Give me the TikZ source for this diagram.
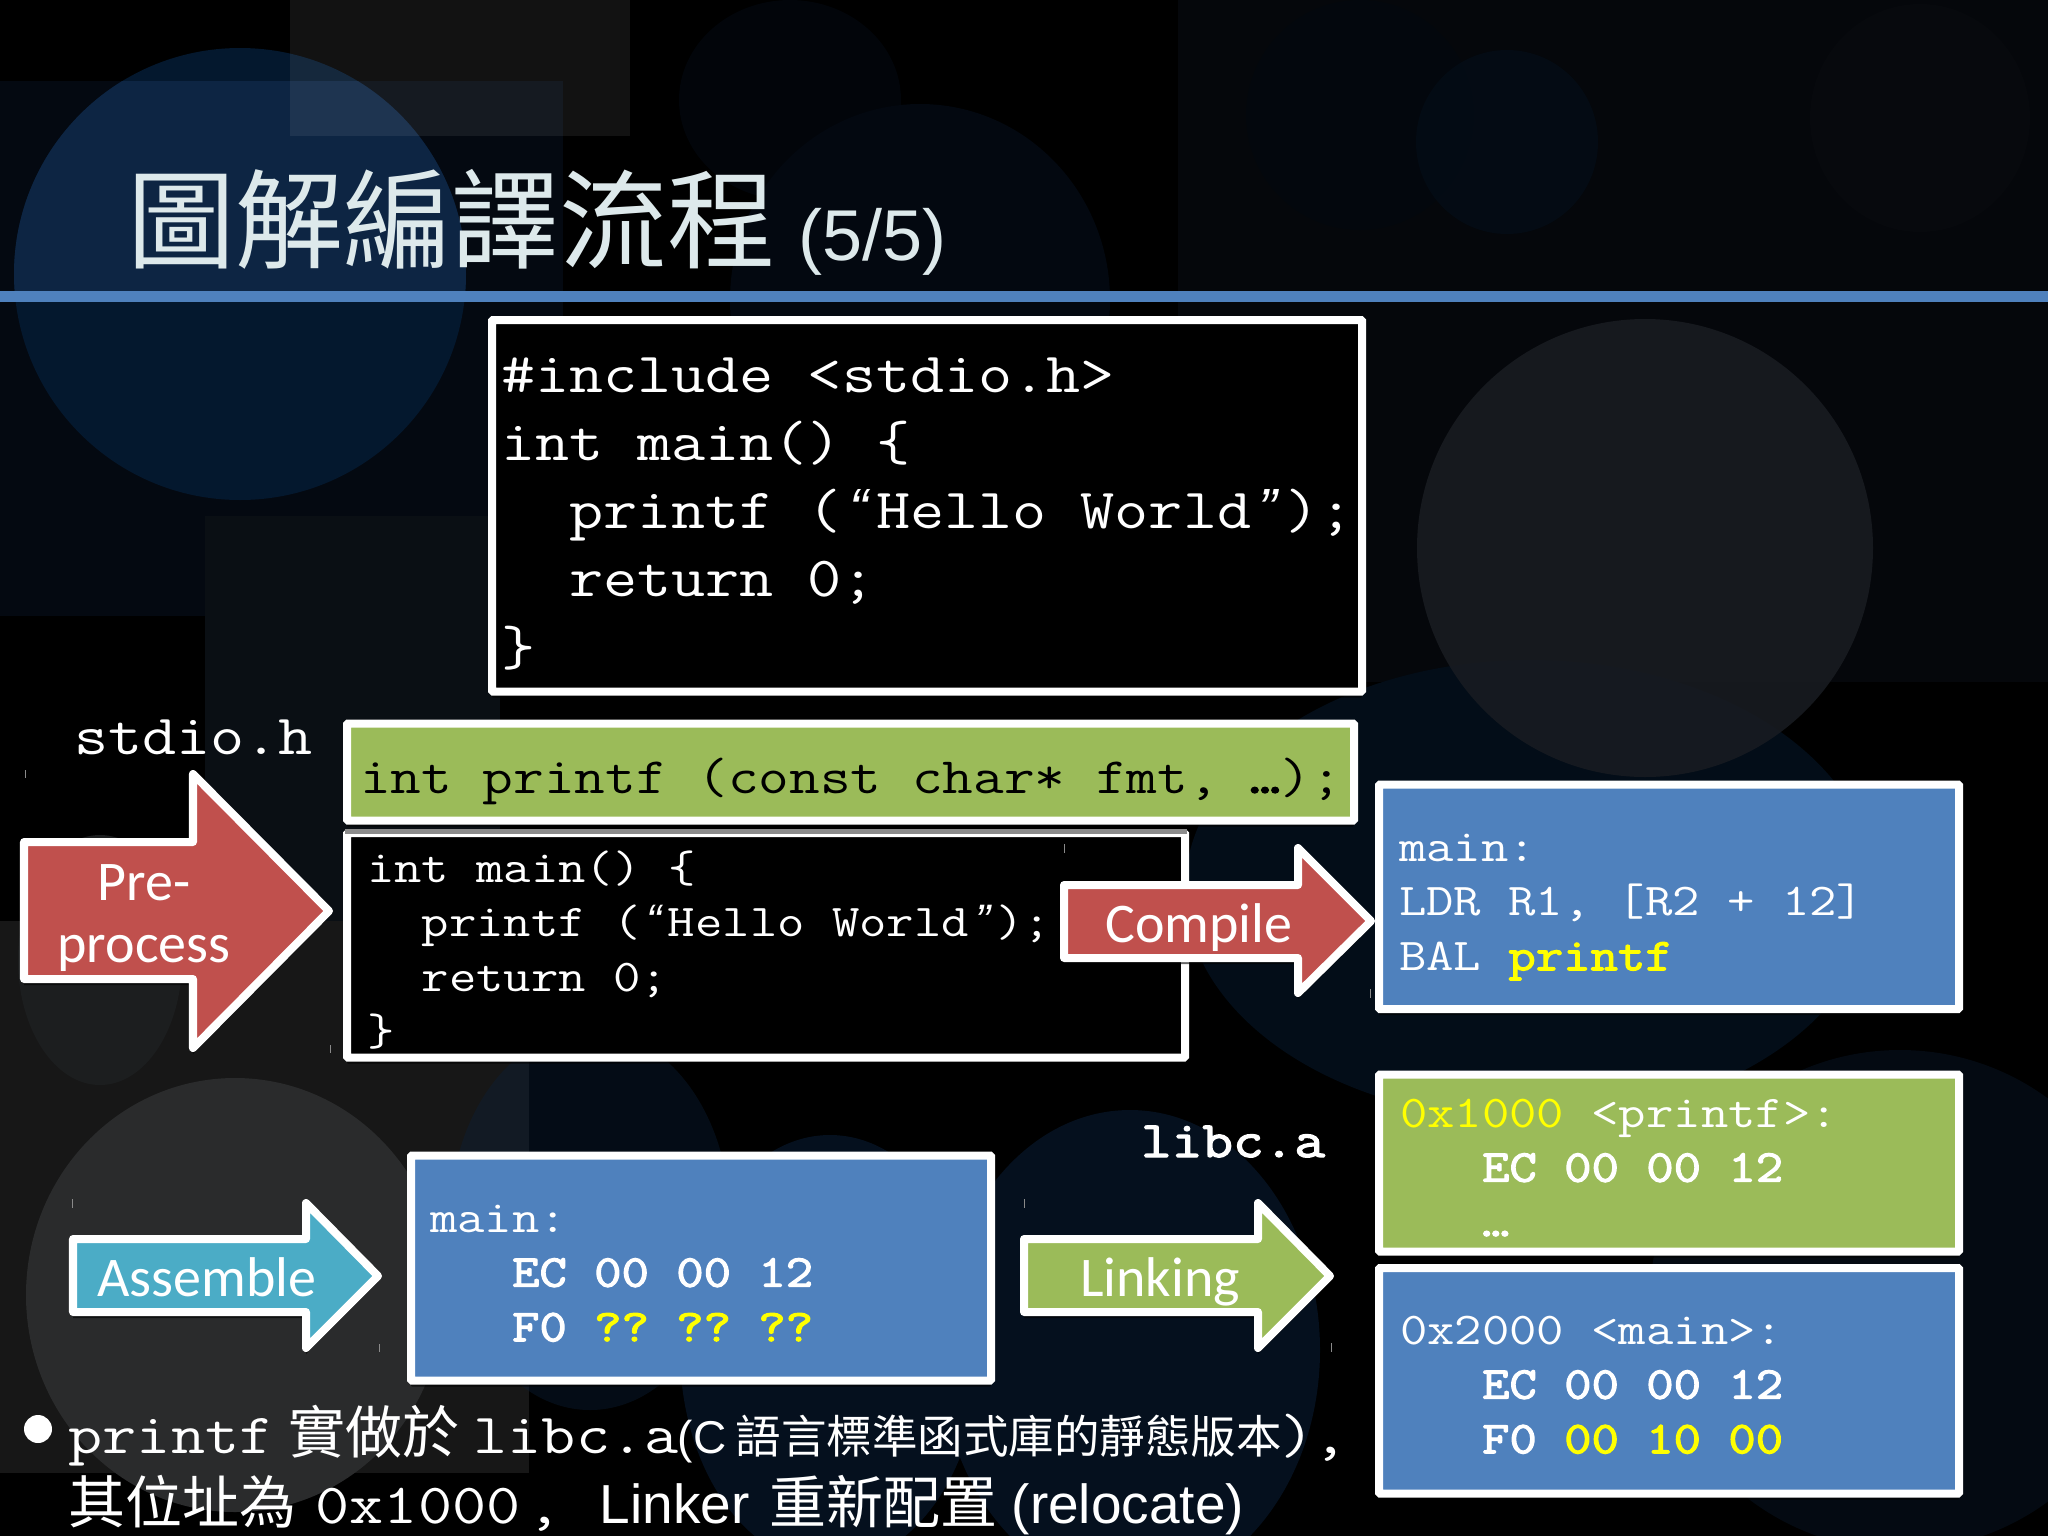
\documentclass[tikz,border=0pt]{standalone}
\usepackage{fontspec}
\usetikzlibrary{shadows}
\setmainfont{Liberation Sans}
\newfontfamily\cour[FakeStretch=1.168]{Latin Modern Mono}
\newfontfamily\courb[FakeStretch=1.168,FakeBold=2.6]{Latin Modern Mono}
\newfontfamily\calb{Carlito}
\newfontfamily\cjk{Noto Sans CJK TC}
\newdimen\pxu \pxu=0.01cm
\newcommand\fsz[2]{\fontsize{#1\pxu}{#2\pxu}\selectfont}
\newcommand\tstr{\rule{0pt}{40\pxu}}
\newcommand\frag[2]{\smash{\makebox[#1\pxu][l]{#2}}}
\newcommand\oqt{\makebox[0.6em][c]{\rmfamily\itshape “}}
\newcommand\cqt{\makebox[0.6em][c]{\rmfamily\itshape ”}}
\definecolor{pptred}{HTML}{C0504D}
\definecolor{pptgreen}{HTML}{9BBB59}
\definecolor{pptblue}{HTML}{4F81BD}
\definecolor{pptteal}{HTML}{4BACC6}
\definecolor{titlecol}{HTML}{DDE9EB}
\definecolor{ywl}{HTML}{FFFF00}
\definecolor{bgA}{HTML}{05070B}
\definecolor{bgB}{HTML}{040911}
\definecolor{bgC}{HTML}{0A0F14}
\definecolor{bgD}{HTML}{171717}
\definecolor{bgE}{HTML}{02050A}
\definecolor{bgEb}{HTML}{03070D}
\definecolor{bgF}{HTML}{030810}
\definecolor{bgG}{HTML}{040C15}
\definecolor{bgH}{HTML}{07090D}
\definecolor{bgI}{HTML}{030D18}
\definecolor{bgJ}{HTML}{181B21}
\definecolor{bgK}{HTML}{040A12}
\definecolor{bgL}{HTML}{05101E}
\definecolor{bgM}{HTML}{0C2038}
\definecolor{bgN}{HTML}{04182E}
\definecolor{bgO}{HTML}{0D2543}
\definecolor{bgP}{HTML}{1C1E1F}
\definecolor{bgQ}{HTML}{2A2B2C}
\definecolor{tickcol}{HTML}{8A8A8A}
\tikzset{
  shd/.style={drop shadow={shadow xshift=0pt,shadow yshift=-0.06cm,opacity=.6,fill=black}},
  box/.style={draw=white,line width=0.08cm,rounded corners=0.01cm,inner sep=0pt,shape=rectangle,shd},
  blockarrow/.style={draw=white,line width=0.08cm,line join=round,shd},
  code/.style={inner sep=0pt,outer sep=0pt,anchor=north west,align=left,text=white},
  codeL/.style={code,font=\cour\fsz{56.7}{68.3}},
  codeM/.style={code,font=\cour\fsz{45.5}{54.6}},
  lab/.style={inner sep=0pt,anchor=base,text=white,align=center,font=\calb\fsz{56}{62}},
  bgfill/.style={draw=none},
  hairtick/.style={draw=tickcol,line width=0.01cm},
}
\begin{document}
\frenchspacing
\begin{tikzpicture}[x=0.01cm,y=-0.01cm]
\useasboundingbox (0,0) rectangle (2048,1536);
\fill[black] (0,0) rectangle (2048,1536);
% background rectangles
\fill[bgfill,fill=bgA] (1178,0) rectangle (2048,682);
\fill[bgfill,fill=bgB] (0,81) rectangle (563,616);
\fill[bgfill,fill=bgC] (205,516) rectangle (500,921);
\fill[bgfill,fill=bgD] (0,921) rectangle (529,1473);
% background circles
\fill[bgfill,fill=bgE] (790,100) ellipse [x radius=111,y radius=100];
\fill[bgfill,fill=bgF] (920,300) ellipse [x radius=190,y radius=196];
\fill[bgfill,fill=bgEb] (1360,115) ellipse [x radius=114,y radius=115];
\fill[bgfill,fill=bgG,fill opacity=.9] (1507,142) ellipse [x radius=91,y radius=92];
\fill[bgfill,fill=bgH] (1920,118) ellipse [x radius=110,y radius=114];
\fill[bgfill,fill=bgI] (1530,890) ellipse [x radius=345,y radius=230];
\fill[bgfill,fill=bgJ,fill opacity=.9] (1645,548) ellipse [x radius=228,y radius=229];
\fill[bgfill,fill=bgK] (1900,1300) ellipse [x radius=250,y radius=250];
\fill[bgfill,fill=bgL] (1130,1350) ellipse [x radius=190,y radius=240];
\fill[bgfill,fill=bgL] (830,1350) ellipse [x radius=150,y radius=215];
\fill[bgfill,fill=bgM,fill opacity=.4] (590,1220) ellipse [x radius=140,y radius=190];
\fill[bgfill,fill=bgN] (240,274) ellipse [x radius=226,y radius=226];
\begin{scope}
\clip (0,81) rectangle (563,292);
\fill[bgfill,fill=bgO] (240,274) ellipse [x radius=226,y radius=226];
\end{scope}
\fill[bgfill,fill=bgP] (100,960) ellipse [x radius=82,y radius=125];
\fill[bgfill,fill=bgQ] (235,1295) ellipse [x radius=209,y radius=217];
\fill[bgfill,fill=white,fill opacity=.07] (290,0) rectangle (630,136);
% title
\node[inner sep=0pt,anchor=base west,text=titlecol,font=\cjk\fsz{108}{108}] (title) at (127,260) {圖解編譯流程};
\node[inner sep=0pt,anchor=base west,text=titlecol,font=\fsz{72}{72}] (titlenum) at (798,260) {(5/5)};
\fill[pptblue] (0,291) rectangle (2048,301.5);
% boxes
\node[box,fill=black,minimum width=870\pxu,minimum height=371.5\pxu] (src) at (927,505.75) {};
\node[box,fill=pptgreen,minimum width=1007\pxu,minimum height=97\pxu] (decl) at (850.5,772) {};
\node[box,fill=black,minimum width=838\pxu,minimum height=224.5\pxu] (prep) at (766,945.25) {};
\fill[gray!90] (345,829) rectangle (1187,834);
\node[box,fill=pptblue,minimum width=580\pxu,minimum height=224.5\pxu] (asm) at (1669,896.75) {};
\node[box,fill=pptgreen,minimum width=580\pxu,minimum height=177\pxu] (lib) at (1669,1163) {};
\node[box,fill=pptblue,minimum width=580\pxu,minimum height=225.5\pxu] (linked) at (1669,1380.75) {};
\node[box,fill=pptblue,minimum width=580\pxu,minimum height=225\pxu] (obj) at (701,1268) {};
% code text
\node[codeL] (srctxt) at (501,352) {\tstr\#include <stdio.h>\\int main() \{\\\ \ printf (\oqt Hello World\cqt);\\\ \ return 0;\\\}};
\node[codeL,anchor=base west] (stdio) at (74,754) {stdio.h};
\node[code,text=black,font=\cour\fsz{51}{60},anchor=base west] (decltxt) at (360,793) {int printf (const char* fmt, {\courb …});};
\node[codeM] (preptxt) at (367,842) {\tstr int main() \{\\\ \ printf (\oqt Hello World\cqt);\\\ \ return 0;\\\}};
\node[codeM] (asmtxt) at (1399,821) {\tstr main:\\LDR R1, [R2 + 12]\\BAL {\courb\color{ywl}printf}};
\node[codeM,font=\courb\fsz{51}{60},anchor=base west] (libc) at (1141,1157) {libc.a};
\node[codeM] (libtxt) at (1400,1087) {\tstr{\color{ywl}0x1000} <printf>:\\{\courb\ \ \ EC 00 00 12}\\{\courb\ \ \ …}};
\node[codeM] (linkedtxt) at (1400,1304) {\tstr 0x2000 <main>:\\{\courb\ \ \ EC 00 00 12}\\{\courb\ \ \ F0 {\color{ywl}00 10 00}}};
\node[codeM] (objtxt) at (430,1192) {\tstr main:\\{\courb\ \ \ EC 00 00 12}\\{\courb\ \ \ F0 {\color{ywl}?? ?? ??}}};
% block arrows
\draw[blockarrow,fill=pptred] (24,842) -- (193,842) -- (193,774) -- (329,911) -- (193,1048) -- (193,979) -- (24,979) -- cycle;
\node[lab] (preproc) at (144,962) {Pre-\\process};
\draw[blockarrow,fill=pptred] (1064,885) -- (1298,885) -- (1298,848) -- (1371,921) -- (1298,993) -- (1298,958) -- (1064,958) -- cycle;
\node[lab] (compile) at (1199,942) {Compile};
\draw[blockarrow,fill=pptteal] (73,1239) -- (306,1239) -- (306,1203) -- (378,1276) -- (306,1348) -- (306,1312) -- (73,1312) -- cycle;
\node[lab] (assemble) at (207,1296) {Assemble};
\draw[blockarrow,fill=pptgreen] (1024,1239) -- (1258,1239) -- (1258,1203) -- (1330,1276) -- (1258,1348) -- (1258,1312) -- (1024,1312) -- cycle;
\node[lab] (linking) at (1160,1296) {Linking};
% hairline ticks at the arrow frames
\draw[hairtick] (25,770) -- (25,778) (330,1045) -- (330,1053) (1064,844) -- (1064,853) (1370,989) -- (1370,998);
\draw[hairtick] (72,1199) -- (72,1208) (379,1344) -- (379,1352) (1024,1199) -- (1024,1208) (1331,1343) -- (1331,1352);
% bullet text
\fill[white] (38,1429) ellipse [x radius=14,y radius=14];
\node[inner sep=0pt,anchor=north west,align=left,text=white,font=\fsz{57}{70}] (note) at (68,1413) {%
\tstr\frag{220}{\cour\fsz{56.7}{70}printf}\frag{185}{\cjk 實做於}\frag{204}{\cour\fsz{56.7}{70}libc.a}\frag{58}{\fsz{46}{70}(C}\frag{545}{\cjk\fsz{45.5}{70}語言標準函式庫的靜態版本}\frag{33}{\cour\fsz{56.7}{70})}\frag{30}{\cour\fsz{56.7}{70},}\\
\frag{247}{\cjk 其位址為}\frag{212}{\cour\fsz{56.7}{70}0x1000}\frag{72}{\cour\fsz{56.7}{70},}\frag{170}{\fsz{55}{70}Linker}\frag{242}{\cjk 重新配置}\frag{240}{\fsz{55}{70}(relocate)}};
\end{tikzpicture}
\end{document}
